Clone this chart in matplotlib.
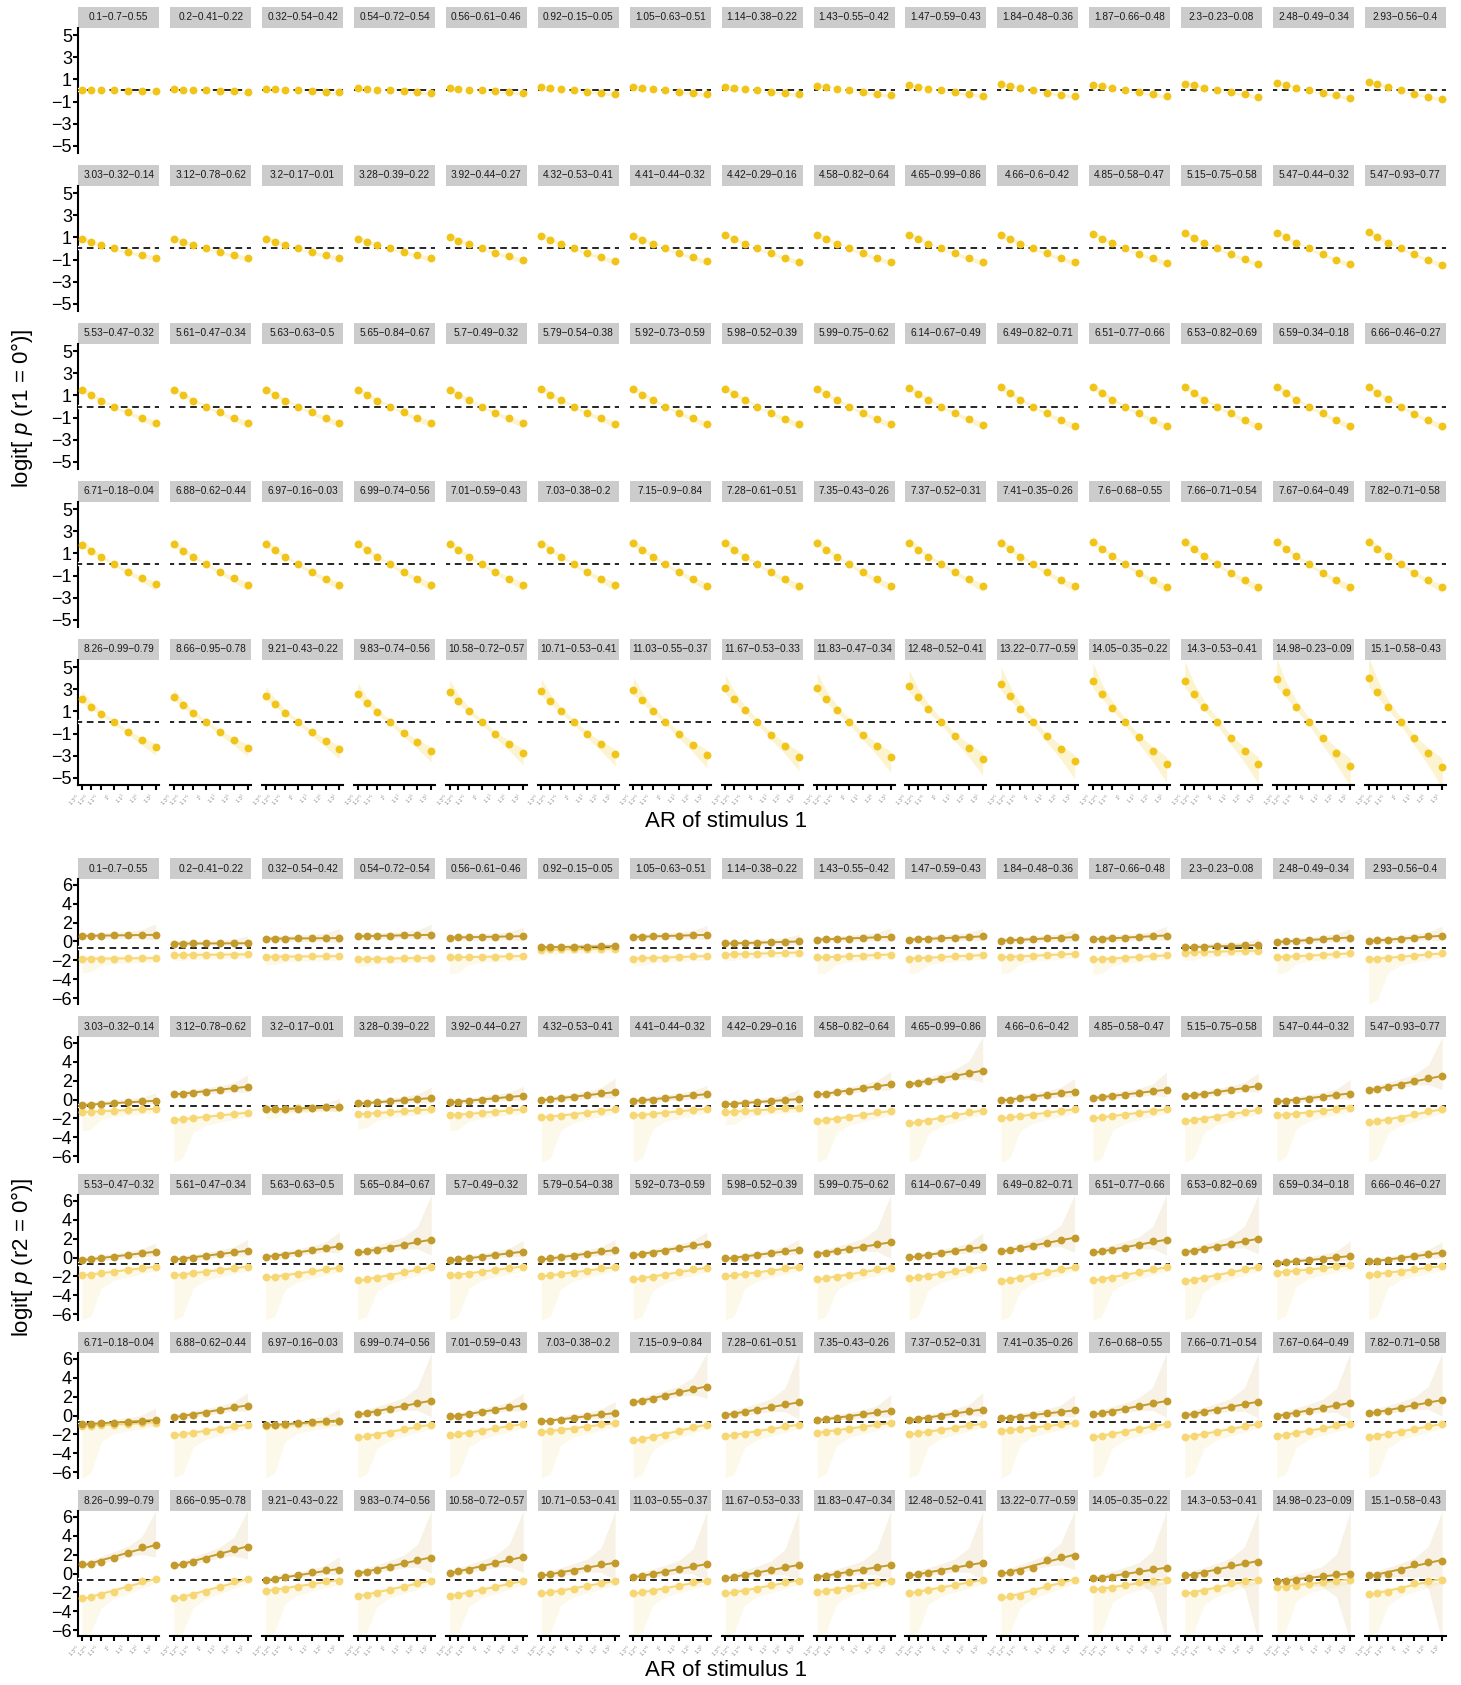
import numpy as np
import matplotlib.pyplot as plt
from matplotlib.patches import Rectangle

plt.rcParams['font.family'] = ['Liberation Sans', 'DejaVu Sans']
plt.rcParams['mathtext.fontset'] = 'custom'
plt.rcParams['mathtext.rm'] = 'Liberation Sans'
plt.rcParams['mathtext.it'] = 'Liberation Sans:italic'

# aspect ratio of stimulus 1 (x axis)
ar_values = [0.769, 0.833, 0.909, 1.0, 1.1, 1.2, 1.3]
ar_labels = [r'$1.3^{-1}$', r'$1.2^{-1}$', r'$1.1^{-1}$', r'$1^{1}$',
             r'$1.1^{1}$', r'$1.2^{1}$', r'$1.3^{1}$']

panel_labels = [
    '0.1-0.7-0.55', '0.2-0.41-0.22', '0.32-0.54-0.42', '0.54-0.72-0.54', '0.56-0.61-0.46',
    '0.92-0.15-0.05', '1.05-0.63-0.51', '1.14-0.38-0.22', '1.43-0.55-0.42', '1.47-0.59-0.43',
    '1.84-0.48-0.36', '1.87-0.66-0.48', '2.3-0.23-0.08', '2.48-0.49-0.34', '2.93-0.56-0.4',
    '3.03-0.32-0.14', '3.12-0.78-0.62', '3.2-0.17-0.01', '3.28-0.39-0.22', '3.92-0.44-0.27',
    '4.32-0.53-0.41', '4.41-0.44-0.32', '4.42-0.29-0.16', '4.58-0.82-0.64', '4.65-0.99-0.86',
    '4.66-0.6-0.42', '4.85-0.58-0.47', '5.15-0.75-0.58', '5.47-0.44-0.32', '5.47-0.93-0.77',
    '5.53-0.47-0.32', '5.61-0.47-0.34', '5.63-0.63-0.5', '5.65-0.84-0.67', '5.7-0.49-0.32',
    '5.79-0.54-0.38', '5.92-0.73-0.59', '5.98-0.52-0.39', '5.99-0.75-0.62', '6.14-0.67-0.49',
    '6.49-0.82-0.71', '6.51-0.77-0.66', '6.53-0.82-0.69', '6.59-0.34-0.18', '6.66-0.46-0.27',
    '6.71-0.18-0.04', '6.88-0.62-0.44', '6.97-0.16-0.03', '6.99-0.74-0.56', '7.01-0.59-0.43',
    '7.03-0.38-0.2', '7.15-0.9-0.84', '7.28-0.61-0.51', '7.35-0.43-0.26', '7.37-0.52-0.31',
    '7.41-0.35-0.26', '7.6-0.68-0.55', '7.66-0.71-0.54', '7.67-0.64-0.49', '7.82-0.71-0.58',
    '8.26-0.99-0.79', '8.66-0.95-0.78', '9.21-0.43-0.22', '9.83-0.74-0.56', '10.58-0.72-0.57',
    '10.71-0.53-0.41', '11.03-0.55-0.37', '11.67-0.53-0.33', '11.83-0.47-0.34', '12.48-0.52-0.41',
    '13.22-0.77-0.59', '14.05-0.35-0.22', '14.3-0.53-0.41', '14.98-0.23-0.09', '15.1-0.58-0.43',
]

# top: logit p(r1 = 0) per panel
r1_logit = [
    [0.06, 0.04, 0.02, 0, -0.02, -0.04, -0.06],
    [0.12, 0.08, 0.04, 0, -0.04, -0.08, -0.12],
    [0.15, 0.10, 0.05, 0, -0.05, -0.10, -0.15],
    [0.20, 0.14, 0.07, 0, -0.07, -0.14, -0.20],
    [0.21, 0.15, 0.08, 0, -0.08, -0.15, -0.21],
    [0.30, 0.21, 0.11, 0, -0.11, -0.21, -0.30],
    [0.35, 0.24, 0.13, 0, -0.13, -0.24, -0.35],
    [0.36, 0.25, 0.13, 0, -0.13, -0.25, -0.36],
    [0.45, 0.31, 0.16, 0, -0.16, -0.31, -0.45],
    [0.46, 0.32, 0.17, 0, -0.17, -0.32, -0.46],
    [0.55, 0.40, 0.20, 0, -0.20, -0.38, -0.50],
    [0.52, 0.42, 0.21, 0, -0.18, -0.36, -0.52],
    [0.60, 0.52, 0.24, 0, -0.18, -0.33, -0.60],
    [0.70, 0.52, 0.24, 0, -0.21, -0.45, -0.67],
    [0.79, 0.58, 0.30, 0, -0.30, -0.55, -0.76],
    [0.85, 0.59, 0.31, 0, -0.31, -0.59, -0.85],
    [0.86, 0.60, 0.31, 0, -0.31, -0.60, -0.86],
    [0.88, 0.61, 0.32, 0, -0.32, -0.61, -0.88],
    [0.90, 0.62, 0.32, 0, -0.32, -0.62, -0.90],
    [1.05, 0.72, 0.38, 0, -0.38, -0.72, -1.05],
    [1.15, 0.79, 0.41, 0, -0.41, -0.79, -1.15],
    [1.18, 0.81, 0.42, 0, -0.42, -0.81, -1.18],
    [1.20, 0.83, 0.43, 0, -0.43, -0.83, -1.20],
    [1.23, 0.85, 0.44, 0, -0.44, -0.85, -1.23],
    [1.25, 0.86, 0.45, 0, -0.45, -0.86, -1.25],
    [1.26, 0.87, 0.45, 0, -0.45, -0.87, -1.26],
    [1.30, 0.90, 0.47, 0, -0.47, -0.90, -1.30],
    [1.38, 0.95, 0.50, 0, -0.50, -0.95, -1.38],
    [1.45, 1.00, 0.52, 0, -0.52, -1.00, -1.45],
    [1.46, 1.01, 0.53, 0, -0.53, -1.01, -1.46],
    [1.48, 1.02, 0.53, 0, -0.53, -1.02, -1.48],
    [1.50, 1.04, 0.54, 0, -0.54, -1.04, -1.50],
    [1.51, 1.04, 0.54, 0, -0.54, -1.04, -1.51],
    [1.51, 1.04, 0.54, 0, -0.54, -1.04, -1.51],
    [1.53, 1.06, 0.55, 0, -0.55, -1.06, -1.53],
    [1.55, 1.07, 0.56, 0, -0.56, -1.07, -1.55],
    [1.58, 1.09, 0.57, 0, -0.57, -1.09, -1.58],
    [1.60, 1.10, 0.58, 0, -0.58, -1.10, -1.60],
    [1.60, 1.10, 0.58, 0, -0.58, -1.10, -1.60],
    [1.64, 1.13, 0.59, 0, -0.59, -1.13, -1.64],
    [1.74, 1.20, 0.63, 0, -0.63, -1.20, -1.74],
    [1.74, 1.20, 0.63, 0, -0.63, -1.20, -1.74],
    [1.75, 1.21, 0.63, 0, -0.63, -1.21, -1.75],
    [1.76, 1.21, 0.63, 0, -0.63, -1.21, -1.76],
    [1.78, 1.23, 0.64, 0, -0.64, -1.23, -1.78],
    [1.80, 1.24, 0.65, 0, -0.65, -1.24, -1.80],
    [1.84, 1.27, 0.66, 0, -0.66, -1.27, -1.84],
    [1.86, 1.28, 0.67, 0, -0.67, -1.28, -1.86],
    [1.87, 1.29, 0.67, 0, -0.67, -1.29, -1.87],
    [1.87, 1.29, 0.67, 0, -0.67, -1.29, -1.87],
    [1.88, 1.30, 0.68, 0, -0.68, -1.30, -1.88],
    [1.91, 1.32, 0.69, 0, -0.69, -1.32, -1.91],
    [1.95, 1.35, 0.70, 0, -0.70, -1.35, -1.95],
    [1.96, 1.35, 0.71, 0, -0.71, -1.35, -1.96],
    [1.97, 1.36, 0.71, 0, -0.71, -1.36, -1.97],
    [1.98, 1.37, 0.71, 0, -0.71, -1.37, -1.98],
    [2.03, 1.40, 0.73, 0, -0.73, -1.40, -2.03],
    [2.05, 1.41, 0.74, 0, -0.74, -1.41, -2.05],
    [2.05, 1.41, 0.74, 0, -0.74, -1.41, -2.05],
    [2.09, 1.44, 0.75, 0, -0.75, -1.44, -2.09],
    [2.12, 1.45, 0.76, 0, -0.82, -1.58, -2.20],
    [2.30, 1.59, 0.83, 0, -0.83, -1.59, -2.30],
    [2.45, 1.69, 0.88, 0, -0.88, -1.69, -2.45],
    [2.62, 1.81, 0.94, 0, -0.94, -1.81, -2.62],
    [2.80, 1.93, 1.01, 0, -1.01, -1.93, -2.80],
    [2.86, 1.97, 1.03, 0, -1.03, -1.97, -2.86],
    [2.95, 2.04, 1.06, 0, -1.06, -2.04, -2.95],
    [3.10, 2.14, 1.12, 0, -1.12, -2.14, -3.10],
    [3.15, 2.17, 1.13, 0, -1.13, -2.17, -3.15],
    [3.32, 2.29, 1.20, 0, -1.20, -2.29, -3.32],
    [3.52, 2.43, 1.27, 0, -1.27, -2.43, -3.52],
    [3.74, 2.58, 1.35, 0, -1.35, -2.58, -3.74],
    [3.80, 2.62, 1.37, 0, -1.37, -2.62, -3.80],
    [3.96, 2.73, 1.43, 0, -1.43, -2.73, -3.96],
    [4.00, 2.76, 1.44, 0, -1.44, -2.76, -4.00],
]
# half width of the top ribbon at the ends
r1_band = [0.15] * 15 + [0.25] * 15 + [0.35] * 15 + [0.45] * 15 + \
    [0.7, 0.7, 0.8, 0.9, 1.0, 1.0, 1.1, 1.2, 1.3, 1.4, 1.5, 1.6, 1.7, 1.8, 1.9]

# bottom: logit p(r2 = 0), dark (upper) series
r2_high = [
    [0.6, 0.6, 0.62, 0.64, 0.66, 0.69, 0.7],
    [-0.22, -0.22, -0.21, -0.21, -0.2, -0.19, -0.18],
    [0.3, 0.3, 0.31, 0.32, 0.34, 0.35, 0.36],
    [0.56, 0.57, 0.59, 0.61, 0.65, 0.68, 0.7],
    [0.42, 0.43, 0.45, 0.47, 0.51, 0.54, 0.56],
    [-0.6, -0.59, -0.58, -0.56, -0.54, -0.51, -0.5],
    [0.49, 0.51, 0.53, 0.57, 0.62, 0.67, 0.7],
    [-0.21, -0.19, -0.17, -0.13, -0.08, -0.03, 0.0],
    [0.21, 0.23, 0.27, 0.31, 0.38, 0.45, 0.49],
    [0.21, 0.24, 0.27, 0.33, 0.41, 0.49, 0.53],
    [0.1, 0.13, 0.17, 0.23, 0.32, 0.41, 0.46],
    [0.25, 0.28, 0.33, 0.39, 0.49, 0.58, 0.63],
    [-0.6, -0.58, -0.56, -0.52, -0.47, -0.42, -0.39],
    [-0.04, 0.0, 0.05, 0.13, 0.25, 0.36, 0.42],
    [0.07, 0.11, 0.18, 0.27, 0.4, 0.53, 0.6],
    [-0.56, -0.53, -0.48, -0.4, -0.3, -0.19, -0.14],
    [0.56, 0.62, 0.71, 0.84, 1.04, 1.23, 1.33],
    [-1.05, -1.03, -1.0, -0.96, -0.9, -0.83, -0.8],
    [-0.42, -0.38, -0.31, -0.21, -0.07, 0.07, 0.14],
    [-0.28, -0.23, -0.15, -0.03, 0.14, 0.3, 0.39],
    [-0.04, 0.02, 0.12, 0.26, 0.46, 0.66, 0.77],
    [-0.14, -0.08, 0.0, 0.12, 0.29, 0.47, 0.56],
    [-0.49, -0.45, -0.38, -0.29, -0.16, -0.03, 0.04],
    [0.53, 0.61, 0.74, 0.92, 1.18, 1.44, 1.58],
    [1.65, 1.76, 1.92, 2.16, 2.5, 2.84, 3.02],
    [-0.07, 0.0, 0.11, 0.27, 0.49, 0.72, 0.84],
    [0.18, 0.25, 0.35, 0.49, 0.7, 0.91, 1.02],
    [0.35, 0.43, 0.56, 0.74, 1.0, 1.26, 1.4],
    [-0.21, -0.14, -0.04, 0.1, 0.31, 0.52, 0.63],
    [1.02, 1.14, 1.31, 1.55, 1.91, 2.27, 2.46],
    [-0.25, -0.18, -0.08, 0.06, 0.28, 0.49, 0.6],
    [-0.18, -0.11, 0.0, 0.15, 0.37, 0.59, 0.7],
    [0.1, 0.18, 0.31, 0.49, 0.76, 1.02, 1.16],
    [0.53, 0.64, 0.8, 1.02, 1.35, 1.69, 1.86],
    [-0.28, -0.21, -0.1, 0.05, 0.27, 0.49, 0.6],
    [-0.18, -0.1, 0.01, 0.17, 0.41, 0.65, 0.77],
    [0.28, 0.38, 0.52, 0.72, 1.02, 1.32, 1.47],
    [-0.1, -0.03, 0.08, 0.24, 0.46, 0.69, 0.81],
    [0.42, 0.51, 0.65, 0.85, 1.14, 1.43, 1.58],
    [0.04, 0.12, 0.25, 0.43, 0.69, 0.95, 1.09],
    [0.67, 0.78, 0.95, 1.19, 1.54, 1.89, 2.07],
    [0.53, 0.64, 0.8, 1.02, 1.35, 1.69, 1.86],
    [0.6, 0.71, 0.87, 1.1, 1.44, 1.78, 1.96],
    [-0.56, -0.5, -0.42, -0.3, -0.13, 0.05, 0.14],
    [-0.42, -0.35, -0.24, -0.08, 0.14, 0.37, 0.49],
    [-0.91, -0.88, -0.83, -0.75, -0.65, -0.54, -0.49],
    [-0.14, -0.04, 0.1, 0.3, 0.6, 0.9, 1.05],
    [-1.02, -0.98, -0.92, -0.84, -0.72, -0.59, -0.53],
    [0.14, 0.25, 0.42, 0.66, 1.01, 1.36, 1.54],
    [-0.1, -0.01, 0.13, 0.33, 0.61, 0.9, 1.05],
    [-0.6, -0.53, -0.43, -0.29, -0.07, 0.14, 0.25],
    [1.44, 1.57, 1.76, 2.04, 2.44, 2.84, 3.05],
    [0.1, 0.2, 0.35, 0.57, 0.89, 1.2, 1.37],
    [-0.46, -0.38, -0.27, -0.11, 0.13, 0.37, 0.49],
    [-0.46, -0.37, -0.24, -0.06, 0.22, 0.49, 0.63],
    [-0.28, -0.22, -0.12, 0.02, 0.22, 0.42, 0.53],
    [0.14, 0.25, 0.41, 0.65, 0.99, 1.33, 1.51],
    [0.07, 0.18, 0.34, 0.58, 0.92, 1.26, 1.44],
    [0.0, 0.1, 0.26, 0.48, 0.81, 1.13, 1.3],
    [0.25, 0.36, 0.52, 0.75, 1.09, 1.43, 1.61],
    [0.98, 1.05, 1.26, 1.61, 2.21, 2.74, 2.98],
    [0.88, 1.02, 1.19, 1.54, 2.07, 2.6, 2.84],
    [-0.67, -0.63, -0.42, -0.21, 0.14, 0.32, 0.42],
    [0.07, 0.2, 0.39, 0.67, 1.07, 1.47, 1.68],
    [0.1, 0.23, 0.42, 0.7, 1.1, 1.51, 1.72],
    [-0.18, -0.08, 0.08, 0.3, 0.63, 0.95, 1.12],
    [-0.35, -0.24, -0.08, 0.14, 0.47, 0.81, 0.98],
    [-0.46, -0.35, -0.19, 0.04, 0.37, 0.71, 0.88],
    [-0.32, -0.22, -0.08, 0.12, 0.42, 0.72, 0.88],
    [-0.18, -0.08, 0.08, 0.3, 0.63, 0.95, 1.12],
    [0.07, 0.15, 0.3, 0.6, 1.45, 1.75, 1.86],
    [-0.49, -0.49, -0.39, -0.04, 0.28, 0.46, 0.53],
    [-0.18, -0.14, 0.04, 0.35, 0.88, 1.12, 1.23],
    [-0.77, -0.74, -0.67, -0.46, -0.25, -0.1, -0.04],
    [-0.21, -0.14, 0.0, 0.39, 0.95, 1.23, 1.3],
]

# bottom: light (lower) series
r2_low = [
    [-1.82, -1.81, -1.81, -1.79, -1.78, -1.76, -1.75],
    [-1.42, -1.42, -1.41, -1.4, -1.38, -1.37, -1.36],
    [-1.6, -1.6, -1.59, -1.58, -1.57, -1.56, -1.55],
    [-1.86, -1.85, -1.83, -1.81, -1.77, -1.74, -1.72],
    [-1.68, -1.67, -1.65, -1.63, -1.59, -1.56, -1.54],
    [-0.85, -0.84, -0.83, -0.82, -0.79, -0.77, -0.76],
    [-1.79, -1.77, -1.74, -1.7, -1.64, -1.57, -1.54],
    [-1.37, -1.35, -1.33, -1.29, -1.24, -1.19, -1.16],
    [-1.68, -1.66, -1.62, -1.57, -1.49, -1.41, -1.37],
    [-1.79, -1.76, -1.72, -1.66, -1.57, -1.49, -1.44],
    [-1.65, -1.62, -1.58, -1.52, -1.43, -1.35, -1.3],
    [-1.89, -1.86, -1.81, -1.73, -1.63, -1.52, -1.47],
    [-1.16, -1.14, -1.12, -1.08, -1.03, -0.98, -0.95],
    [-1.65, -1.62, -1.57, -1.51, -1.41, -1.31, -1.26],
    [-1.86, -1.81, -1.74, -1.64, -1.49, -1.34, -1.26],
    [-1.33, -1.3, -1.26, -1.2, -1.11, -1.03, -0.98],
    [-2.14, -2.08, -1.99, -1.87, -1.68, -1.5, -1.4],
    [-1.05, -1.03, -0.99, -0.94, -0.86, -0.78, -0.74],
    [-1.54, -1.5, -1.44, -1.36, -1.24, -1.11, -1.05],
    [-1.65, -1.6, -1.53, -1.43, -1.28, -1.13, -1.05],
    [-1.89, -1.82, -1.72, -1.58, -1.37, -1.16, -1.05],
    [-1.68, -1.62, -1.54, -1.42, -1.25, -1.07, -0.98],
    [-1.33, -1.29, -1.24, -1.16, -1.05, -0.94, -0.88],
    [-2.25, -2.17, -2.05, -1.87, -1.62, -1.36, -1.23],
    [-2.49, -2.38, -2.22, -2.0, -1.67, -1.33, -1.16],
    [-1.96, -1.89, -1.78, -1.62, -1.4, -1.17, -1.05],
    [-1.96, -1.89, -1.78, -1.62, -1.4, -1.17, -1.05],
    [-2.25, -2.16, -2.02, -1.83, -1.55, -1.27, -1.12],
    [-1.68, -1.62, -1.52, -1.38, -1.18, -0.98, -0.88],
    [-2.42, -2.31, -2.15, -1.91, -1.57, -1.23, -1.05],
    [-1.86, -1.79, -1.68, -1.53, -1.31, -1.09, -0.98],
    [-1.86, -1.79, -1.68, -1.53, -1.31, -1.09, -0.98],
    [-2.1, -2.02, -1.9, -1.73, -1.47, -1.22, -1.09],
    [-2.42, -2.31, -2.15, -1.91, -1.57, -1.23, -1.05],
    [-1.89, -1.81, -1.7, -1.54, -1.31, -1.07, -0.95],
    [-1.96, -1.88, -1.77, -1.61, -1.38, -1.14, -1.02],
    [-2.28, -2.18, -2.04, -1.84, -1.54, -1.24, -1.09],
    [-1.96, -1.88, -1.77, -1.61, -1.38, -1.14, -1.02],
    [-2.28, -2.18, -2.04, -1.84, -1.54, -1.24, -1.09],
    [-2.18, -2.09, -1.95, -1.75, -1.46, -1.17, -1.02],
    [-2.46, -2.34, -2.17, -1.93, -1.57, -1.21, -1.02],
    [-2.39, -2.28, -2.12, -1.89, -1.56, -1.22, -1.05],
    [-2.46, -2.34, -2.17, -1.93, -1.57, -1.21, -1.02],
    [-1.58, -1.52, -1.43, -1.31, -1.12, -0.94, -0.84],
    [-1.82, -1.75, -1.64, -1.48, -1.26, -1.03, -0.91],
    [-1.09, -1.06, -1.02, -0.96, -0.87, -0.79, -0.74],
    [-2.07, -1.98, -1.85, -1.67, -1.39, -1.12, -0.98],
    [-1.09, -1.05, -1.0, -0.92, -0.8, -0.69, -0.63],
    [-2.28, -2.18, -2.02, -1.8, -1.47, -1.15, -0.98],
    [-2.07, -1.98, -1.84, -1.64, -1.35, -1.06, -0.91],
    [-1.72, -1.65, -1.54, -1.38, -1.16, -0.93, -0.81],
    [-2.63, -2.5, -2.3, -2.02, -1.61, -1.19, -0.98],
    [-2.14, -2.05, -1.91, -1.71, -1.42, -1.13, -0.98],
    [-1.79, -1.71, -1.59, -1.43, -1.18, -0.94, -0.81],
    [-1.96, -1.87, -1.74, -1.56, -1.29, -1.02, -0.88],
    [-1.61, -1.55, -1.45, -1.31, -1.11, -0.91, -0.81],
    [-2.25, -2.14, -1.98, -1.75, -1.42, -1.08, -0.91],
    [-2.25, -2.14, -1.98, -1.75, -1.42, -1.08, -0.91],
    [-2.14, -2.04, -1.89, -1.67, -1.36, -1.04, -0.88],
    [-2.25, -2.14, -1.98, -1.75, -1.42, -1.08, -0.91],
    [-2.6, -2.46, -2.25, -1.93, -1.4, -0.77, -0.63],
    [-2.6, -2.46, -2.25, -1.93, -1.47, -0.84, -0.63],
    [-1.82, -1.72, -1.58, -1.37, -1.09, -0.84, -0.74],
    [-2.35, -2.22, -2.03, -1.77, -1.37, -0.98, -0.77],
    [-2.35, -2.23, -2.04, -1.78, -1.4, -1.01, -0.81],
    [-2.1, -2.0, -1.84, -1.62, -1.3, -0.98, -0.81],
    [-2.1, -1.99, -1.83, -1.61, -1.28, -0.94, -0.77],
    [-2.1, -1.99, -1.83, -1.6, -1.26, -0.92, -0.74],
    [-1.93, -1.83, -1.69, -1.49, -1.19, -0.9, -0.74],
    [-2.04, -1.93, -1.77, -1.54, -1.21, -0.87, -0.7],
    [-2.49, -2.42, -2.35, -1.86, -1.3, -0.85, -0.67],
    [-1.68, -1.65, -1.54, -1.26, -0.91, -0.77, -0.67],
    [-2.07, -2.04, -1.86, -1.54, -1.02, -0.77, -0.67],
    [-1.4, -1.4, -1.3, -1.09, -0.88, -0.74, -0.67],
    [-2.18, -2.1, -2.0, -1.58, -0.98, -0.77, -0.67],
]

# upper edge of the dark ribbon at AR = 1.3
r2_high_top = [
    1.85, 0.6, 1.4, 1.8, 1.5, -0.15, 1.7, 0.75, 1.45, 1.4, 1.25, 1.6, 0.3, 1.35, 1.6,
    0.7, 2.6, 0.1, 1.3, 1.4, 2.25, 1.5, 1.1, 3.0, 6.6, 2.2, 2.9, 2.8, 2.1, 6.6,
    1.5, 1.9, 2.7, 6.6, 1.8, 1.9, 2.7, 1.9, 6.6, 2.6, 6.6, 6.6, 6.6, 1.75, 1.65,
    0.8, 2.4, 0.7, 6.6, 2.35, 1.5, 6.6, 6.6, 2.2, 2.4, 2.2, 6.6, 6.6, 6.6, 6.6,
    6.6, 6.6, 1.8, 6.6, 6.6, 6.6, 6.6, 6.6, 6.6, 6.6, 6.6, 6.6, 6.6, 6.6, 6.6,
]
# lower edge of the light ribbon at AR = 1.3^-1
r2_low_bottom = [
    -3.3, -2.0, -2.5, -2.6, -3.4, -1.4, -2.6, -2.0, -3.4, -3.4, -3.4, -3.5, -2.0, -3.4, -6.6,
    -3.3, -6.6, -2.0, -3.1, -3.3, -6.6, -6.6, -2.7, -6.6, -6.6, -6.6, -6.6, -6.6, -6.6, -6.6,
] + [-6.6] * 45
# panels whose dark ribbon also opens downward at AR = 1.3
r2_wide_low = ['14.05-0.35-0.22', '14.3-0.53-0.41', '14.98-0.23-0.09', '15.1-0.58-0.43']

GOLD = '#F0C419'
DARK = '#C39A2C'
LIGHT = '#F7D774'

W, H = 1461, 1685
fig = plt.figure(figsize=(W / 100, H / 100), dpi=100)

x = np.array(ar_values)
rise = np.array([0, 0.02, 0.04, 0.07, 0.12, 0.3, 1.0])
drop = np.array([1.0, 0.9, 0.25, 0.1, 0.06, 0.03, 0])
shape = np.array([1, 0.55, 0.3, 0.2, 0.3, 0.55, 1])

col_left = 78.3
col_step = 91.9
panel_w = 81
panel_h = 125
strip_h = 21


def make_panel(row, col, top0, label):
    left = col_left + col * col_step
    top = top0 + row * 158
    ax = fig.add_axes([left / W, 1 - (top + panel_h) / H, panel_w / W, panel_h / H])
    ax.set_xlim(0.7425, 1.3266)
    for s in ax.spines.values():
        s.set_visible(False)
    ax.add_patch(Rectangle((0, 1), 1, strip_h / panel_h, transform=ax.transAxes,
                           facecolor='#CCCCCC', lw=0, clip_on=False))
    ax.text(0.5, 1 + strip_h / panel_h / 2, label.replace('-', '\u2212'),
            transform=ax.transAxes, ha='center', va='center', fontsize=7.3,
            color='#1A1A1A')
    if col == 0:
        ax.spines['left'].set_visible(True)
        ax.spines['left'].set_linewidth(1.5)
        ax.tick_params(axis='y', length=3.5, width=1.5, labelsize=13, pad=1)
    else:
        ax.set_yticks([])
    if row == 4:
        ax.spines['bottom'].set_visible(True)
        ax.spines['bottom'].set_linewidth(1.5)
        ax.set_xticks(ar_values)
        ax.set_xticklabels(ar_labels, rotation=45, ha='right', fontsize=3.6,
                           color='#8C8C8C')
        ax.tick_params(axis='x', length=3.5, width=1.5, pad=1.5)
    else:
        ax.set_xticks([])
    return ax


def ref_line(ax, y):
    ax.axhline(y, color='white', lw=3.2, zorder=3)
    ax.axhline(y, color='black', lw=1.2, ls=(1.5, (4.0, 2.8)), zorder=4)


# top grid: p(r1 = 0)
for k, lab in enumerate(panel_labels):
    row, col = divmod(k, 15)
    ax = make_panel(row, col, 28, lab)
    ax.set_ylim(-5.68, 5.68)
    if col == 0:
        ax.set_yticks([-5, -3, -1, 1, 3, 5])
    y = np.array(r1_logit[k])
    w_out = r1_band[k] * shape + 0.08
    w_in = 0.35 * r1_band[k] * shape + 0.08
    hi = np.where(y >= 0, y + w_out, y + w_in)
    lo = np.where(y >= 0, y - w_in, y - w_out)
    ax.fill_between(x, lo, hi, color=GOLD, alpha=0.2, lw=0, zorder=1)
    ref_line(ax, 0)
    ax.scatter(x, y, s=32, color=GOLD, lw=0, zorder=5, clip_on=False)

# bottom grid: p(r2 = 0)
for k, lab in enumerate(panel_labels):
    row, col = divmod(k, 15)
    ax = make_panel(row, col, 879, lab)
    ax.set_ylim(-6.58, 6.58)
    if col == 0:
        ax.set_yticks([-6, -4, -2, 0, 2, 4, 6])
    yh = np.array(r2_high[k])
    yl = np.array(r2_low[k])
    fh = np.polyval(np.polyfit(x, yh, 1), x)
    fl = np.polyval(np.polyfit(x, yl, 1), x)

    extra = max(r2_high_top[k] - fh[-1] - 0.3, 0)
    h_hi = fh + 0.3 + extra * rise
    if lab in r2_wide_low:
        h_lo = fh - 0.3 - (fh + 6.9) * rise
    else:
        h_lo = fh - 0.3 - 0.3 * extra * rise
    l_hi = fl + 0.3
    l_lo = fl - 0.45 - (fl - 0.45 - r2_low_bottom[k]) * drop

    ax.fill_between(x, l_lo, l_hi, color=LIGHT, alpha=0.15, lw=0, zorder=1)
    ax.fill_between(x, h_lo, h_hi, color=DARK, alpha=0.12, lw=0, zorder=2)
    ref_line(ax, -0.69)
    ax.plot(x, fl, color=LIGHT, lw=1.4, zorder=5)
    ax.plot(x, fh, color=DARK, lw=1.4, zorder=5)
    ax.scatter(x, yl, s=32, color=LIGHT, lw=0, zorder=6, clip_on=False)
    ax.scatter(x, yh, s=32, color=DARK, lw=0, zorder=6, clip_on=False)

fig.text(726 / W, 1 - 821 / H, 'AR of stimulus 1', ha='center', va='center', fontsize=16)
fig.text(726 / W, 1 - 1670 / H, 'AR of stimulus 1', ha='center', va='center', fontsize=16)
fig.text(22 / W, 1 - 408 / H, r'logit[ $p$ (r1 = 0°)]', rotation=90,
         ha='center', va='center', fontsize=16)
fig.text(22 / W, 1 - 1257 / H, r'logit[ $p$ (r2 = 0°)]', rotation=90,
         ha='center', va='center', fontsize=16)

fig.savefig('out.png', dpi=100, facecolor='white')
